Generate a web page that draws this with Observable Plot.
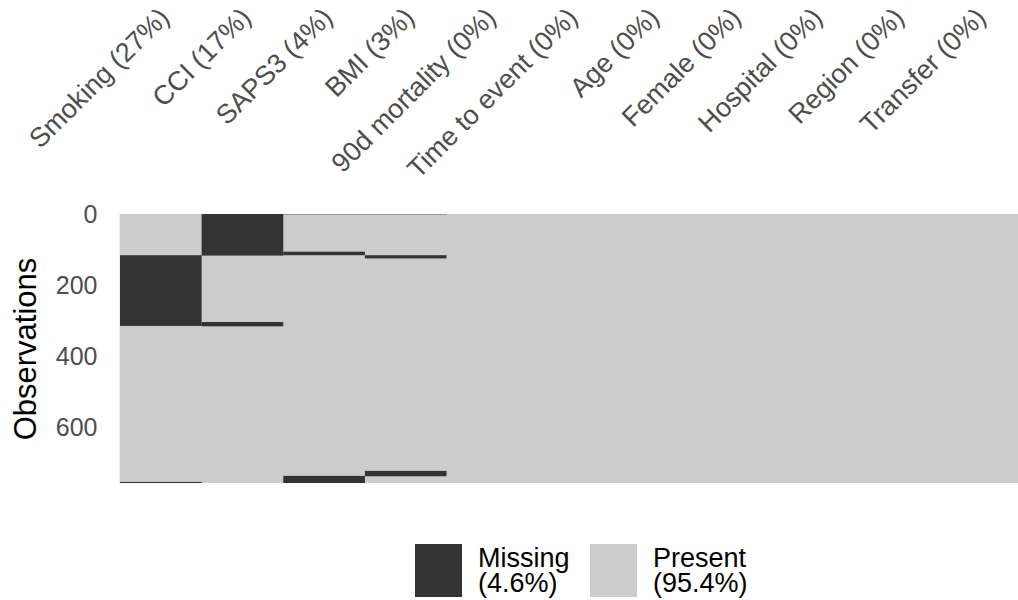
<!DOCTYPE html>
<html><head><meta charset="utf-8">
<script src="https://cdn.jsdelivr.net/npm/d3@7"></script>
<script src="https://cdn.jsdelivr.net/npm/@observablehq/plot@0.6"></script>
<style>
body{margin:0;background:#fff;font-family:"Liberation Sans",Arial,sans-serif;}
#wrap{position:relative;width:1018px;height:600px;overflow:hidden;}
.item{position:absolute;top:544px;display:flex;align-items:center;height:53px;}
.sw{width:47px;height:53px;}
.lab{font-size:27px;margin-left:16px;color:#000;white-space:nowrap;}
.lab div{height:24.3px;line-height:24.3px;}
</style></head><body><div id="wrap"><div id="chart"></div><div id="legend"></div></div>
<script>
const columns = ["Smoking","CCI","SAPS3","BMI","90d mortality","Time to event","Age","Female","Hospital","Region","Transfer"];
const nObs = 757;
// runs of missing rows (inclusive row numbers)
const runCol  = ["Smoking","Smoking","CCI","CCI","SAPS3","SAPS3","SAPS3","BMI","BMI","BMI"];
const runFrom = [117,755,1,305,1,107,738,1,117,724];
const runTo   = [315,757,117,316,1,116,757,1,125,738];
const yTicks = [0,200,400,600];
const legendKeys = ["Missing","Present"];
const legendColors = ["#333333","#cccccc"];

const runs = runCol.map((c,i)=>({col:c, from:runFrom[i]-1, to:runTo[i]}));
const missingCount = columns.map(c => d3.sum(runs.filter(r=>r.col===c), r=>r.to-r.from));
const labels = columns.map((c,i)=>`${c} (${Math.round(missingCount[i]/nObs*100)}%)`);
const totalMissing = d3.sum(missingCount);
const pctMissing = totalMissing/(nObs*columns.length)*100;
const legendPct = [pctMissing, 100-pctMissing];

const font = '"Liberation Sans", Arial, sans-serif';
const chart = Plot.plot({
  width:1018, height:500, marginTop:214, marginBottom:17, marginLeft:120, marginRight:0,
  style:{fontFamily:font, background:"white"},
  x:{type:"band", domain:columns, padding:0, round:false, axis:null},
  y:{domain:[0,nObs], reverse:true, axis:null},
  marks:[
    Plot.barY(columns,{x:d=>d, y1:0, y2:nObs, fill:legendColors[1], insetLeft:-0.4, insetRight:-0.4}),
    Plot.barY(runs,{x:"col", y1:"from", y2:"to", fill:legendColors[0]}),
    Plot.text(yTicks,{y:d=>d, text:d=>String(d), frameAnchor:"left", dx:-23, textAnchor:"end", lineAnchor:"middle", fontSize:25, fill:"#4d4d4d"}),
    Plot.text(columns,{x:d=>d, text:(d,i)=>labels[i], frameAnchor:"top", dy:-209, dx:-4, rotate:-45, textAnchor:"end", lineAnchor:"top", fontSize:27, fill:"#4d4d4d"}),
    Plot.text(["Observations"],{frameAnchor:"left", dx:-94, rotate:-90, textAnchor:"middle", lineAnchor:"middle", fontSize:31, fill:"black"})
  ]
});
document.getElementById("chart").appendChild(chart);

const leg = document.getElementById("legend");
const legendLeft = [415, 590];
legendKeys.forEach((k,i)=>{
  const it = document.createElement("div");
  it.className="item";
  it.style.left = legendLeft[i]+"px";
  const sw = document.createElement("div");
  sw.className="sw"; sw.style.background=legendColors[i];
  const lab = document.createElement("div");
  lab.className="lab";
  const l1 = document.createElement("div"); l1.textContent = k;
  const l2 = document.createElement("div"); l2.textContent = `(${legendPct[i].toFixed(1)}%)`;
  lab.appendChild(l1); lab.appendChild(l2);
  it.appendChild(sw); it.appendChild(lab);
  leg.appendChild(it);
});
</script></body></html>
